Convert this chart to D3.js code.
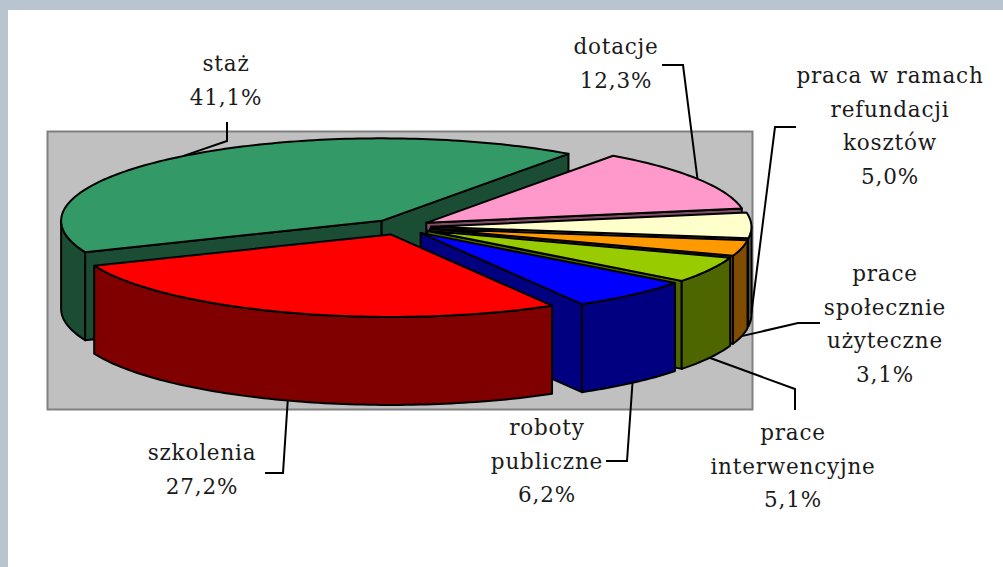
<!DOCTYPE html>
<html>
<head>
<meta charset="utf-8">
<script src="https://cdn.jsdelivr.net/npm/d3@7"></script>
<style>
html, body { margin: 0; padding: 0; background: #fff; }
svg { display: block; }
text { font-family: "DejaVu Serif", serif; font-size: 21.5px; letter-spacing: 0.8px; fill: #1a1a1a; text-anchor: middle; }
</style>
</head>
<body>
<svg id="chart" width="1003" height="567"></svg>
<script>
// values
var categories = [
    ['staż'],
    ['dotacje'],
    ['praca w ramach', 'refundacji', 'kosztów'],
    ['prace', 'społecznie', 'użyteczne'],
    ['prace', 'interwencyjne'],
    ['roboty', 'publiczne'],
    ['szkolenia']
];
var shares = [41.1, 12.3, 5.0, 3.1, 5.1, 6.2, 27.2];
var topColors = ['#339966', '#ff99cc', '#ffffcc', '#ff9900', '#99cc00', '#0000ff', '#ff0000'];
var sideColors = ['#1a4d33', '#804d66', '#808066', '#804d00', '#4d6600', '#000080', '#800000'];

// label placement: centre x, first baseline y
var labelX = [226, 616, 890, 885, 793, 547, 202];
var labelY = [71, 54, 83, 281, 440, 435, 460];
var lineStep = 33.7;
// leader line points, running from the label towards the slice
var leaderElbows = [
    [[227, 122], [227, 141]],
    [[662, 65], [683, 65]],
    [[796, 127], [775, 127]],
    [[820, 323], [798, 323]],
    [[795, 410], [795, 389]],
    [[606, 461], [627, 461]],
    [[265, 473], [283, 473]]
];

var width = 1003, height = 567;
var pieX = 400.5, pieY = 227, radiusX = 320.5, radiusY = 82.5, depth = 88, explode = 0.095;
var firstAngle = 247.7 * Math.PI / 180;
var turn = 2 * Math.PI;

var svg = d3.select('#chart');
var line = d3.line();

// page frame
svg.append('rect').attr('width', width).attr('height', 10).attr('fill', '#b8c4d0');
svg.append('rect').attr('width', 8).attr('height', height).attr('fill', '#b8c4d0');

// plot area
svg.append('rect')
    .attr('x', 47.5).attr('y', 131.5)
    .attr('width', 705).attr('height', 278)
    .attr('fill', '#c0c0c0')
    .attr('stroke', '#808080')
    .attr('stroke-width', 2);

var pie = d3.pie().sort(null)
    .startAngle(firstAngle)
    .endAngle(firstAngle + turn);
var slices = pie(shares);

function rimPoint(d, angle, drop) {
    return [d.cx + radiusX * Math.sin(angle), d.cy - radiusY * Math.cos(angle) + drop];
}

function arcPoints(d, from, to, drop) {
    var n = Math.max(2, Math.ceil((to - from) / 0.02));
    return d3.range(n + 1).map(function(i) {
        return rimPoint(d, from + (to - from) * i / n, drop);
    });
}

slices.forEach(function(d) {
    var mid = (d.startAngle + d.endAngle) / 2;
    d.mid = mid;
    d.cx = pieX + explode * radiusX * Math.sin(mid);
    d.cy = pieY - explode * radiusY * Math.cos(mid);
});

function radialSide(d, angle) {
    return line([[d.cx, d.cy], rimPoint(d, angle, 0), rimPoint(d, angle, depth), [d.cx, d.cy + depth]]) + 'Z';
}

var sliceG = svg.selectAll('.slice')
    .data(slices)
    .enter().append('g')
    .attr('class', 'slice')
    .attr('stroke', '#000')
    .attr('stroke-width', 2)
    .attr('stroke-linejoin', 'round');

sliceG.each(function(d, i) {
    var g = d3.select(this);
    var side = sideColors[i];

    // radial walls that face the viewer
    if (Math.sin(d.startAngle) < 0) {
        g.append('path').attr('d', radialSide(d, d.startAngle)).attr('fill', side);
    }
    if (Math.sin(d.endAngle) > 0) {
        g.append('path').attr('d', radialSide(d, d.endAngle)).attr('fill', side);
    }

    // outer wall, only the front half of the ellipse (angles run past one full turn)
    [0, turn].forEach(function(offset) {
        var from = Math.max(d.startAngle, Math.PI / 2 + offset);
        var to = Math.min(d.endAngle, 3 * Math.PI / 2 + offset);
        if (to > from) {
            var upper = arcPoints(d, from, to, 0);
            var lower = arcPoints(d, from, to, depth).reverse();
            g.append('path').attr('d', line(upper.concat(lower)) + 'Z').attr('fill', side);
        }
    });

    // top face
    var top = [[d.cx, d.cy]].concat(arcPoints(d, d.startAngle, d.endAngle, 0));
    g.append('path').attr('d', line(top) + 'Z').attr('fill', topColors[i]);
});

// leader lines end on the rim at the middle of the slice
svg.selectAll('.leader')
    .data(slices)
    .enter().append('path')
    .attr('class', 'leader')
    .attr('fill', 'none')
    .attr('stroke', '#000')
    .attr('stroke-width', 2)
    .attr('d', function(d, i) {
        var drop = Math.cos(d.mid) < 0.1 ? depth : 0;
        return line(leaderElbows[i].concat([rimPoint(d, d.mid, drop)]));
    });

var labels = svg.selectAll('.label')
    .data(slices)
    .enter().append('text')
    .attr('class', 'label');

labels.each(function(d, i) {
    var rows = categories[i].concat([shares[i].toFixed(1).replace('.', ',') + '%']);
    d3.select(this).selectAll('tspan')
        .data(rows)
        .enter().append('tspan')
        .attr('x', labelX[i])
        .attr('y', function(r, j) { return labelY[i] + j * lineStep; })
        .text(function(r) { return r; });
});
</script>
</body>
</html>
